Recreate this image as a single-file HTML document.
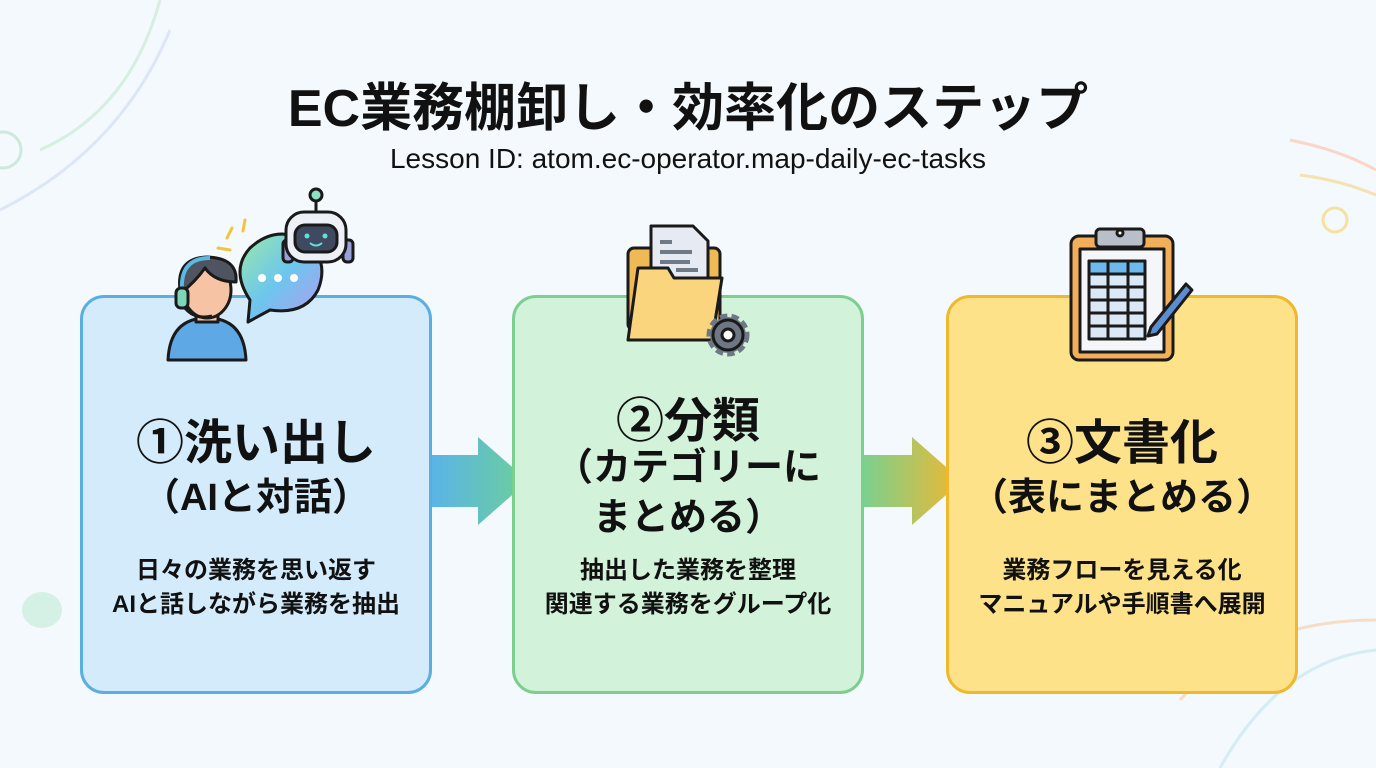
<!DOCTYPE html>
<html><head><meta charset="utf-8"><style>
body{margin:0;width:1376px;height:768px;overflow:hidden;background:#f3f9fc;font-family:"Liberation Sans","Noto Sans CJK JP",sans-serif;position:relative;color:#111}
.t{position:absolute;left:0;width:1376px;text-align:center}
.box{position:absolute;top:295px;width:346px;height:393px;border-radius:24px;border:3px solid}
.c{position:absolute;text-align:center;font-weight:bold;white-space:nowrap}
</style></head><body>
<svg width="1376" height="768" style="position:absolute;left:0;top:0">
<defs>
<linearGradient id="a1"><stop offset="0" stop-color="#5ab4e8"/><stop offset="1" stop-color="#6ccf9a"/></linearGradient>
<linearGradient id="a2"><stop offset="0" stop-color="#7cd08e"/><stop offset="1" stop-color="#f0b830"/></linearGradient>
<linearGradient id="bub" x1="0" y1="0" x2="1" y2="1"><stop offset="0" stop-color="#9be8a8"/><stop offset=".5" stop-color="#6cc6ee"/><stop offset="1" stop-color="#b59af0"/></linearGradient>
</defs>
<path d="M0 210 Q120 150 170 30" stroke="#dde6f5" stroke-width="3" fill="none"/>
<path d="M40 150 Q130 110 160 0" stroke="#d6efe0" stroke-width="3" fill="none"/>
<circle cx="3" cy="150" r="18" stroke="#cfe8dc" stroke-width="3" fill="none"/>
<path d="M1290 140 Q1340 150 1376 170" stroke="#f9d6c8" stroke-width="3" fill="none"/>
<path d="M1300 175 Q1340 180 1376 195" stroke="#f5e2b0" stroke-width="3" fill="none"/>
<circle cx="1335" cy="220" r="12" stroke="#f6e2a0" stroke-width="3" fill="none"/>
<path d="M1180 700 Q1250 620 1376 620" stroke="#f7dcc6" stroke-width="3" fill="none"/>
<path d="M1220 768 Q1280 660 1376 650" stroke="#d5ecf4" stroke-width="3" fill="none"/>
<ellipse cx="42" cy="610" rx="20" ry="18" fill="#d5f0e4"/>
<path d="M430 455 H478 V437 L528 481 L478 525 V507 H430 Z" fill="url(#a1)"/>
<path d="M864 455 H912 V437 L962 481 L912 525 V507 H864 Z" fill="url(#a2)"/>
</svg>
<div class="box" style="left:80px;background:#d3ebfb;border-color:#5aaee0"></div>
<div class="box" style="left:512px;background:#d3f2da;border-color:#7ccf8e"></div>
<div class="box" style="left:946px;background:#fde28a;border-color:#f0b82c"></div>
<svg width="1376" height="768" style="position:absolute;left:0;top:0" stroke="#1a1a1a" stroke-width="3" stroke-linejoin="round">
<path d="M168 360 Q170 318 207 318 Q244 318 246 360 Z" fill="#5fa8e6"/>
<rect x="196" y="306" width="22" height="16" fill="#f6c3a5"/>
<ellipse cx="207" cy="290" rx="24" ry="28" fill="#f6c3a5"/>
<path d="M180 290 Q176 258 207 257 Q238 258 236 282 Q215 282 205 268 Q195 282 182 292 Z" fill="#4e5560"/>
<path d="M182 290 Q180 258 210 258" fill="none" stroke="#5bb8e0" stroke-width="4"/>
<rect x="176" y="288" width="12" height="20" rx="5" fill="#7ed6b8"/>
<path d="M185 308 Q195 320 212 316" fill="none"/>
<path d="M250 300 Q230 270 250 248 Q275 225 305 240 Q330 260 318 290 Q305 315 270 310 L248 322 Z" fill="url(#bub)" stroke="#1a1a1a"/>
<circle cx="262" cy="278" r="4" fill="#fff" stroke="none"/><circle cx="278" cy="278" r="4" fill="#fff" stroke="none"/><circle cx="294" cy="278" r="4" fill="#fff" stroke="none"/>
<path d="M227 238 L232 228 M243 231 L245 220 M218 248 L230 250" stroke="#f2c43c" stroke-width="3" stroke-linecap="round"/>
<line x1="316" y1="196" x2="316" y2="212"/><circle cx="316" cy="195" r="6" fill="#8ee0c4"/>
<rect x="283" y="240" width="10" height="22" rx="4" fill="#9aa0d8"/><rect x="343" y="240" width="10" height="22" rx="4" fill="#9aa0d8"/>
<rect x="286" y="212" width="60" height="50" rx="18" fill="#eef0f8"/>
<rect x="295" y="225" width="42" height="27" rx="10" fill="#3f4a60"/>
<circle cx="307" cy="236" r="2.5" fill="#5fe0d8" stroke="none"/><circle cx="325" cy="236" r="2.5" fill="#5fe0d8" stroke="none"/>
<path d="M310 243 Q316 248 322 243" stroke="#5fe0d8" fill="none" stroke-width="2"/>
<rect x="628" y="248" width="92" height="82" rx="6" fill="#efb955"/>
<path d="M651 290 V226 H693 L708 241 V290 Z" fill="#e6eaf2"/>
<path d="M660 242 H672 M660 252 H692 M660 262 H690 M676 270 H698" stroke="#707a86" stroke-width="4"/>
<path d="M628 340 L638 268 H668 L674 278 H722 L712 340 Z" fill="#fbd57e"/>
<circle cx="728" cy="335" r="18" fill="#6e7884" stroke-dasharray="7 4" stroke-width="7" stroke="#6e7884"/>
<circle cx="728" cy="335" r="15" fill="#6e7884"/>
<circle cx="728" cy="335" r="6" fill="#fff"/>
<rect x="1071" y="236" width="102" height="124" rx="8" fill="#f2ae58"/>
<rect x="1080" y="249" width="84" height="103" fill="#f4f6fa"/>
<rect x="1096" y="229" width="48" height="18" rx="4" fill="#b9bfc8"/>
<circle cx="1120" cy="233" r="3" fill="#fff"/>
<rect x="1089" y="261" width="56" height="78" fill="#dbe9f7"/>
<rect x="1089" y="261" width="56" height="13" fill="#6db8ec"/>
<path d="M1108 261 V339 M1128 261 V339 M1089 274 H1145 M1089 287 H1145 M1089 300 H1145 M1089 313 H1145 M1089 326 H1145" fill="none"/>
<path d="M1186 284 L1192 290 L1157 334 L1148 336 L1151 327 Z" fill="#5a8ed0"/>
</svg>
<div class="t" style="top:66px;font-size:52px;font-weight:bold">EC業務棚卸し・効率化のステップ</div>
<div class="t" style="top:143px;font-size:28px">Lesson ID: atom.ec-operator.map-daily-ec-tasks</div>
<div class="c" style="left:80px;width:352px;top:403px;font-size:48px">①洗い出し</div>
<div class="c" style="left:80px;width:352px;top:466px;font-size:38px">（AIと対話）</div>
<div class="c" style="left:80px;width:352px;top:554px;font-size:24px;line-height:34px">日々の業務を思い返す<br>AIと話しながら業務を抽出</div>
<div class="c" style="left:512px;width:352px;top:381px;font-size:48px">②分類</div>
<div class="c" style="left:512px;width:352px;top:443px;font-size:38px;line-height:50px">（カテゴリーに<br>まとめる）</div>
<div class="c" style="left:512px;width:352px;top:554px;font-size:24px;line-height:34px">抽出した業務を整理<br>関連する業務をグループ化</div>
<div class="c" style="left:946px;width:352px;top:403px;font-size:48px">③文書化</div>
<div class="c" style="left:946px;width:352px;top:466px;font-size:38px">（表にまとめる）</div>
<div class="c" style="left:946px;width:352px;top:554px;font-size:24px;line-height:34px">業務フローを見える化<br>マニュアルや手順書へ展開</div>
</body></html>
